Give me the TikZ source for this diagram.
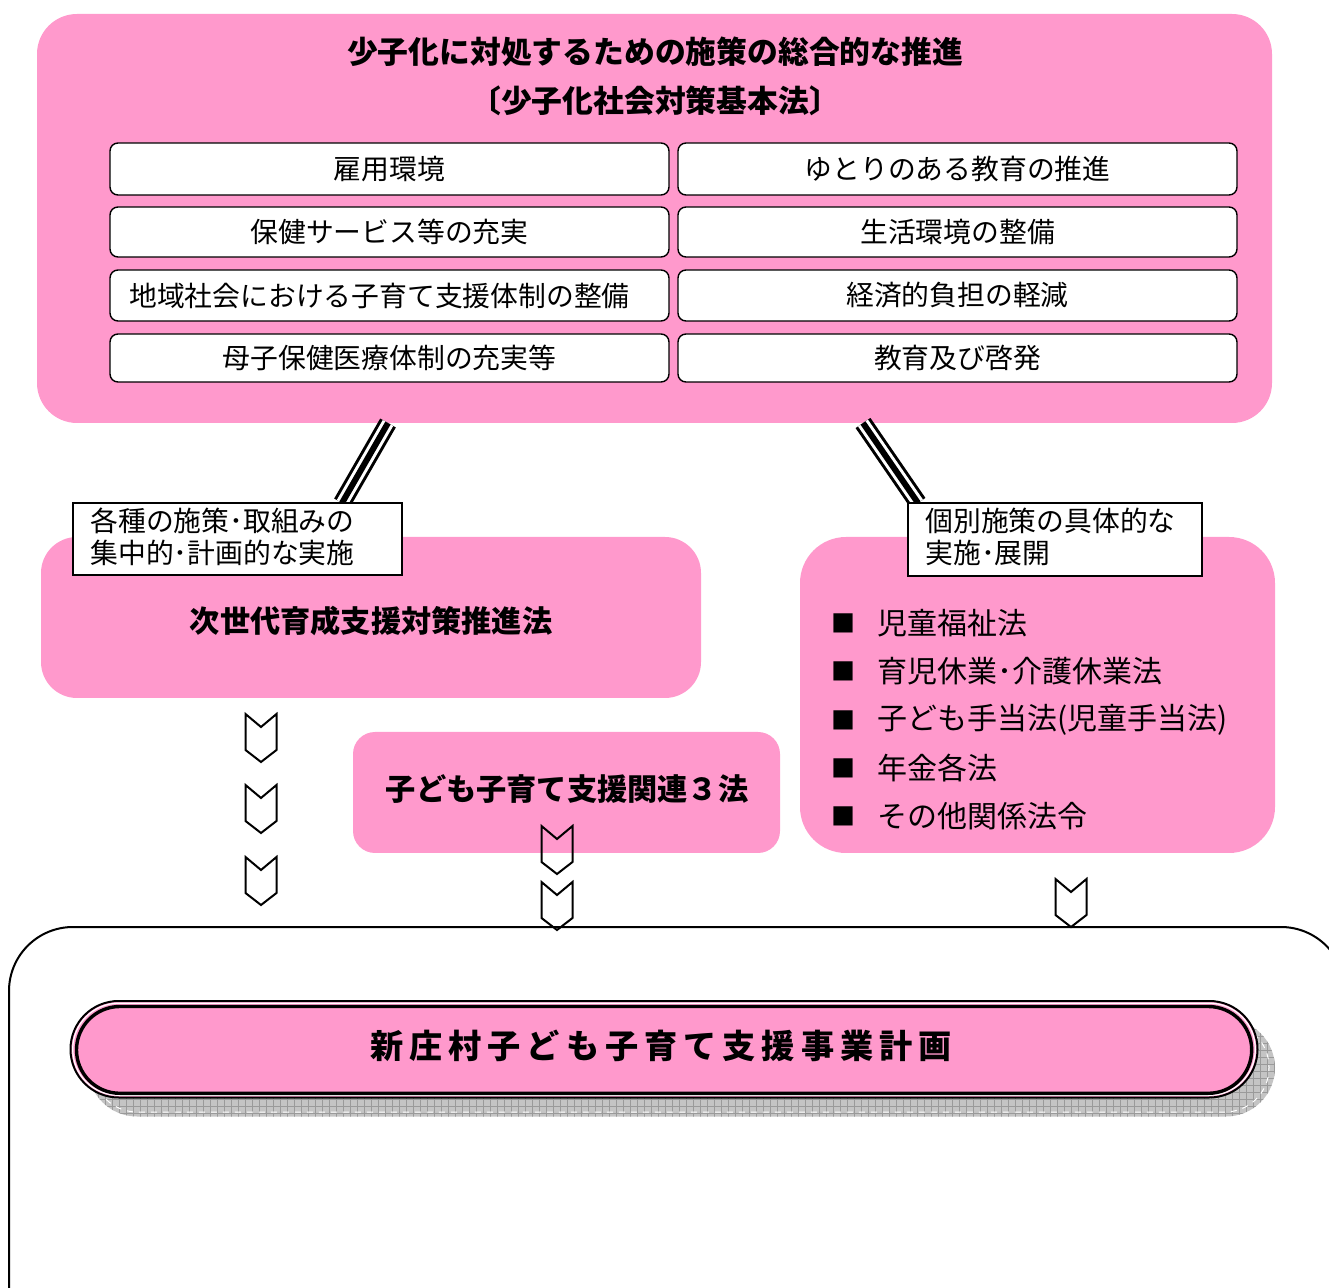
\documentclass[tikz,border=0pt]{standalone}
\usepackage{fontspec}
\setmainfont{Noto Sans CJK JP}
\newfontfamily\jp{Noto Sans CJK JP}
\newfontfamily\jpsp[LetterSpace=18]{Noto Sans CJK JP}
\usetikzlibrary{fit}
\definecolor{pk}{HTML}{FF99CC}
\definecolor{shd}{HTML}{C4C4C4}
\definecolor{shdline}{HTML}{9A9A9A}
\begin{document}
\begin{tikzpicture}[x=0.5pt,y=-0.5pt,
  pinkbox/.style={fill=pk, inner sep=0pt},
  itembox/.style={draw, fill=white, rounded corners=4pt, line width=0.7pt, inner sep=0pt},
  itemtext/.style={inner sep=0pt, font=\jp\fontsize{13.9}{16}\selectfont},
  tagbox/.style={draw, fill=white, line width=1pt, inner sep=0pt},
  tagtext/.style={anchor=west, align=left, inner sep=0pt, font=\jp\fontsize{13.9}{16}\selectfont},
  titletext/.style={font=\jp\bfseries\fontsize{15.4}{18}\selectfont},
  boldtext/.style={font=\jp\bfseries\fontsize{15.1}{18}\selectfont},
  bul/.style={inner sep=0pt, font=\jp\fontsize{12}{14}\selectfont},
  bultext/.style={anchor=west, inner sep=0pt, font=\jp\fontsize{15}{18}\selectfont},
  tripleouter/.style={line width=1.5pt, double=white, double distance=6pt},
  triplecenter/.style={line width=3pt},
  chev/.pic={\draw[line width=1pt, line join=miter] (-15.5,0)--(0,13)--(15.5,0)--(15.5,36)--(0,48)--(-15.5,36)--cycle;}
]
\useasboundingbox (0,0) rectangle (1329,1288);
\clip (0,0) rectangle (1329,1288);

% top box
\node[pinkbox, rounded corners=20pt, fit={(37,14)(1272,423)}] (top) {};
\node[titletext] (title1) at (655,52) {少子化に対処するための施策の総合的な推進};
\node[titletext] (title2) at (655,101) {〔少子化社会対策基本法〕};

\node[itembox, fit={(110,143)(669,195)}] (i1) {};
\node[itemtext] at (i1.center) {雇用環境};
\node[itembox, fit={(678,143)(1237,195)}] (i2) {};
\node[itemtext] at (i2.center) {ゆとりのある教育の推進};
\node[itembox, fit={(110,207)(669,257)}] (i3) {};
\node[itemtext] at (i3.center) {保健サービス等の充実};
\node[itembox, fit={(678,207)(1237,257)}] (i4) {};
\node[itemtext] at (i4.center) {生活環境の整備};
\node[itembox, fit={(110,270)(669,321)}] (i5) {};
\node[itemtext] at ([xshift=-5pt]i5.center) {地域社会における子育て支援体制の整備};
\node[itembox, fit={(678,270)(1237,321)}] (i6) {};
\node[itemtext] at (i6.center) {経済的負担の軽減};
\node[itembox, fit={(110,334)(669,382)}] (i7) {};
\node[itemtext] at (i7.center) {母子保健医療体制の充実等};
\node[itembox, fit={(678,334)(1237,382)}] (i8) {};
\node[itemtext] at (i8.center) {教育及び啓発};

% middle pink boxes
\node[pinkbox, rounded corners=18pt, fit={(41,537)(701,698)}] (jisedai) {};
\node[boldtext] (jisedaitext) at (371,621) {次世代育成支援対策推進法};
\node[pinkbox, rounded corners=23pt, fit={(800,537)(1275,853)}] (kobetsu) {};
\node[pinkbox, rounded corners=11pt, fit={(353,732)(780,853)}] (sanpo) {};
\node[boldtext] (sanpotext) at (567,789) {子ども子育て支援関連３法};

% triple connectors
\coordinate (l1) at (388,423);
\coordinate (l2) at (342,503);
\coordinate (r1) at (863,423);
\coordinate (r2) at (918,503);
\draw[tripleouter] (l1) -- (l2);
\draw[triplecenter] (l1) -- (l2);
\draw[tripleouter] (r1) -- (r2);
\draw[triplecenter] (r1) -- (r2);

% tag boxes
\node[tagbox, fit={(73,503)(402,575)}] (tagL) {};
\node[tagtext] (tagLtext) at (90,537) {各種の施策･取組みの\\[-0.2pt]集中的･計画的な実施};
\node[tagbox, fit={(908,503)(1202,576)}] (tagR) {};
\node[tagtext] (tagRtext) at (925,537) {個別施策の具体的な\\[-0.2pt]実施･展開};

% bullet list
\node[bul] (s1) at (843,623) {■};
\node[bultext] (b1) at (877,623) {児童福祉法};
\node[bul] (s2) at (843,671) {■};
\node[bultext] (b2) at (877,671) {育児休業･介護休業法};
\node[bul] (s3) at (843,720) {■};
\node[bultext] (b3) at (877,720) {子ども手当法(児童手当法)};
\node[bul] (s4) at (843,768) {■};
\node[bultext] (b4) at (877,768) {年金各法};
\node[bul] (s5) at (843,816) {■};
\node[bultext] (b5) at (877,816) {その他関係法令};

% bottom frame
\node[draw, line width=1pt, rounded corners=32pt, inner sep=0pt, fit={(9,927)(1345,1400)}] (frame) {};

% chevrons
\pic at (261,714) {chev};
\pic at (261,785) {chev};
\pic at (261,857) {chev};
\pic at (557,826) {chev};
\pic at (557,882) {chev};
\pic at (1071,879) {chev};

% shadow
\begin{scope}
  \clip[rounded corners=24.5pt] (88,1019) rectangle (1275,1116.5);
  \fill[shd] (80,1010) rectangle (1290,1125);
  \draw[shdline, line width=0.4pt, step=3.5pt] (80,1010) grid (1290,1125);
\end{scope}
\draw[white, dashed, line width=0.5pt, rounded corners=22pt] (93,1023) rectangle (1269,1112);

% final plan
\node[draw, fill=pk, line width=1pt, rounded corners=24.1pt, inner sep=0pt, fit={(70.5,1001)(1257.5,1097.5)}] (plan) {};
\draw[white, line width=0.6pt, rounded corners=23pt] (72.7,1003.2) rectangle (1255.3,1095.3);
\draw[line width=1.7pt, rounded corners=21.7pt] (76.5,1006.5) rectangle (1251.7,1093.3);
\node[font=\jpsp\bfseries\fontsize{16.6}{20}\selectfont] (plantext) at (661,1046) {新庄村子ども子育て支援事業計画};
\end{tikzpicture}
\end{document}
